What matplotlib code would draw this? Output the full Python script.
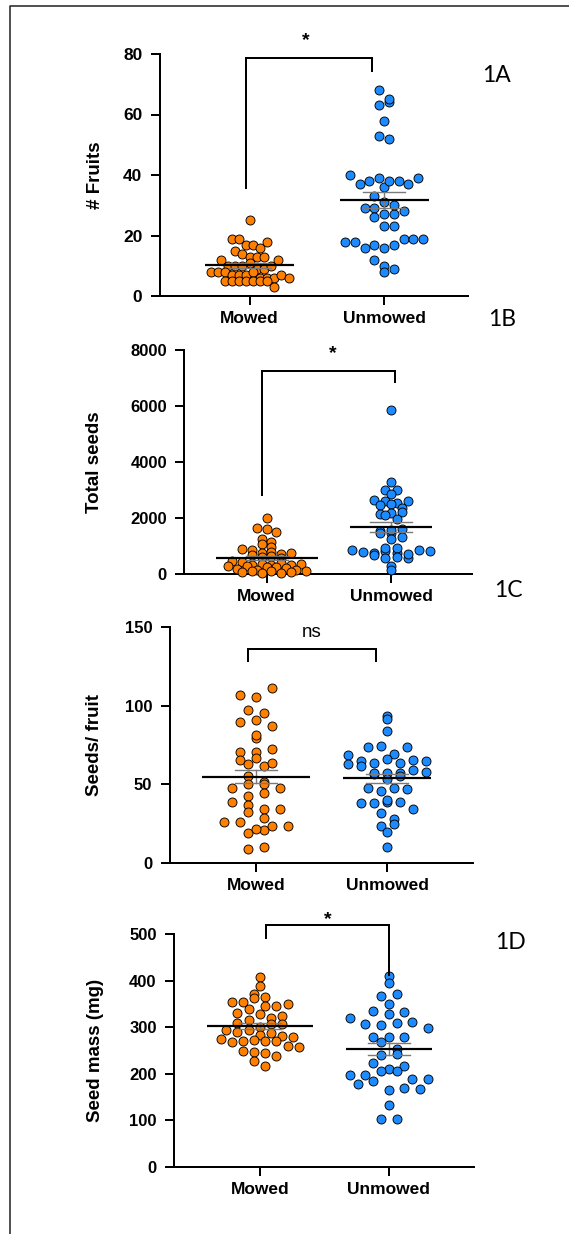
import numpy as np
import matplotlib
matplotlib.use("Agg")
import matplotlib.pyplot as plt
from matplotlib.lines import Line2D

FIG_W, FIG_H, DPI = 569, 1234, 100
PT = 72 / DPI  # points per pixel

groups = ["Mowed", "Unmowed"]
colors = ["#FF8000", "#1C8BFF"]

# 1A: number of fruits per plant
fruits_mowed = [25, 19, 19, 17, 17, 15, 16, 14, 13, 13, 13, 12, 10, 10, 10, 11, 9,
                8, 8, 8, 7, 7, 7, 8, 6, 6, 6, 7, 5, 5, 5, 5, 5, 5, 6, 9, 10, 12, 18, 5, 3]
fruits_unmowed = [68, 63, 64, 65, 58, 53, 52, 40, 37, 38, 39, 36, 38, 38, 37, 39, 33,
                  31, 29, 29, 26, 27, 27, 30, 28, 23, 23, 18, 18, 16, 17, 16, 17, 19,
                  19, 19, 12, 10, 9, 8]

# 1B: total seeds per plant
seeds_mowed = [2000, 1650, 1620, 1500, 1240, 1150, 1080, 980, 900, 840, 760, 800, 720,
               680, 740, 600, 640, 560, 480, 420, 330, 350, 310, 400, 320, 340, 290,
               180, 270, 150, 260, 240, 200, 140, 120, 60, 90, 40, 100, 50, 80]
seeds_unmowed = [5850, 3300, 3000, 3000, 2860, 2640, 2610, 2520, 2600, 2460, 2490, 2350,
                 2130, 2170, 2230, 2100, 1960, 1540, 1450, 1450, 1570, 1600, 1310, 1250,
                 860, 800, 740, 830, 940, 740, 920, 680, 580, 600, 580, 710, 860, 830,
                 300, 160]

# 1C: seeds per fruit
spf_mowed = [106.8, 105.3, 111.0, 97.0, 95.3, 89.4, 91.1, 87.3, 79.5, 81.6, 70.5, 70.8,
             72.7, 65.7, 62.9, 61.4, 66.7, 63.6, 55.1, 51.7, 47.9, 50.0, 50.4, 47.9, 42.4,
             44.3, 38.6, 37.1, 34.1, 32.6, 34.3, 28.8, 26.1, 26.1, 18.9, 20.8, 21.6, 23.3,
             23.7, 9.1, 10.2]
spf_unmowed = [93.4, 91.5, 84.1, 73.5, 74.4, 69.5, 73.5, 68.6, 64.8, 62.7, 63.3, 66.1,
               63.3, 65.3, 61.9, 64.8, 56.8, 57.4, 57.0, 57.0, 59.1, 53.2, 55.3, 57.6,
               47.5, 45.8, 47.9, 47.0, 38.3, 38.3, 38.6, 38.8, 39.8, 34.3, 32.0, 28.2,
               23.7, 24.8, 19.5, 10.2]

# 1D: seed mass (mg)
mass_mowed = [408, 389, 372, 365, 355, 355, 362, 346, 345, 350, 331, 340, 329, 320, 324,
              310, 315, 301, 306, 306, 295, 290, 293, 284, 287, 282, 275, 269, 270, 273,
              279, 270, 271, 260, 258, 250, 247, 245, 238, 228, 217]
mass_unmowed = [410, 395, 367, 371, 350, 334, 328, 332, 319, 307, 305, 309, 311, 298, 280,
                280, 278, 268, 254, 241, 242, 223, 211, 216, 198, 197, 206, 206, 189, 178,
                188, 184, 166, 170, 167, 132, 102, 102]

panel_data = [
    (fruits_mowed, fruits_unmowed),
    (seeds_mowed, seeds_unmowed),
    (spf_mowed, spf_unmowed),
    (mass_mowed, mass_unmowed),
]
panel_names = ["1A", "1B", "1C", "1D"]
y_titles = ["# Fruits", "Total seeds", "Seeds/ fruit", "Seed mass (mg)"]
y_ticks = [
    [0, 20, 40, 60, 80],
    [0, 2000, 4000, 6000, 8000],
    [0, 50, 100, 150],
    [0, 100, 200, 300, 400, 500],
]
sig_marks = ["*", "*", "ns", "*"]

# significance bracket: left x, right x, bar height, left foot, right foot
brackets = [
    (-0.027, 0.91, 78.6, 35.6, 74.4),
    (-0.035, 1.03, 7260, 2820, 6850),
    (-0.063, 0.913, 135.8, 128.2, 128.2),
    (0.045, 1.0, 519, 491, 412),
]
sig_pos = [(0.419, 83.0), (0.534, 7714), (0.426, 143.5), (0.525, 522)]

# panel geometry (px): y-axis x, Mowed x, Unmowed x, axis end x, top tick y, zero y
frames = [
    (159.6, 249.5, 384.0, 468.0, 54, 296),
    (184.3, 266.6, 391.0, 471.5, 350, 574),
    (169.7, 256.0, 387.4, 473.0, 627, 863),
    (174.0, 259.7, 388.8, 474.4, 934, 1167),
]
mean_half_px = [(44.5, 44.5), (51, 41), (54, 44), (53, 43)]
row_height = [3.5, 200, 6, 22]
panel_tag_px = [(496, 81.7), (502.5, 326), (508, 596.7), (510.7, 949)]
ylabel_x_px = 95
ytick_size = [12.5, 12, 12, 12]

plt.rcParams["font.family"] = ["Liberation Sans", "DejaVu Sans"]

fig = plt.figure(figsize=(FIG_W / DPI, FIG_H / DPI), dpi=DPI)
fig.patch.set_facecolor("white")


def swarm_x(values, center, row_h, spread, max_step):
    """Spread points that share a value row symmetrically around the group centre."""
    v = np.asarray(values, float)
    rows = np.round(v / row_h).astype(int)
    n_max = np.bincount(rows - rows.min()).max()
    step = min(spread / max(n_max - 1, 1), max_step)
    x = np.full(v.size, float(center))
    for r in np.unique(rows):
        idx = np.flatnonzero(rows == r)
        x[idx] = center + (np.arange(idx.size) - (idx.size - 1) / 2) * step
    return x


lw_axis = 2 * PT
for i, (mowed, unmowed) in enumerate(panel_data):
    yx, c0, c1, xend, ytop, yzero = frames[i]
    sp = c1 - c0
    ax = fig.add_axes([yx / FIG_W, 1 - yzero / FIG_H,
                       (xend - yx) / FIG_W, (yzero - ytop) / FIG_H])
    ax.set_xlim((yx - c0) / sp, (xend - c0) / sp)
    ax.set_ylim(y_ticks[i][0], y_ticks[i][-1])
    for side in ("top", "right"):
        ax.spines[side].set_visible(False)
    for side in ("left", "bottom"):
        ax.spines[side].set_linewidth(lw_axis)
        ax.spines[side].set_color("black")

    for g, vals in enumerate((mowed, unmowed)):
        vals = np.asarray(vals, float)
        xs = swarm_x(vals, g, row_height[i], 78 / sp, 16 / sp)
        ax.scatter(xs, vals, s=(9 * PT) ** 2, color=colors[g], edgecolor="black",
                   linewidth=0.9 * PT, zorder=3, clip_on=False)
        m = vals.mean()
        sem = vals.std(ddof=1) / np.sqrt(vals.size)
        cap = 21 / sp
        ax.plot([g, g], [m - sem, m + sem], color="#7a7a7a", lw=1.4 * PT, zorder=4)
        ax.plot([g - cap, g + cap], [m + sem, m + sem], color="#7a7a7a", lw=1.4 * PT, zorder=4)
        ax.plot([g - cap, g + cap], [m - sem, m - sem], color="#7a7a7a", lw=1.4 * PT, zorder=4)
        half = mean_half_px[i][g] / sp
        ax.plot([g - half, g + half], [m, m], color="black", lw=2.2 * PT, zorder=5,
                solid_capstyle="butt")

    ax.set_xticks([0, 1])
    ax.set_xticklabels(groups, fontsize=12.5, fontweight="bold")
    ax.set_yticks(y_ticks[i])
    ax.set_yticklabels([str(t) for t in y_ticks[i]], fontsize=ytick_size[i],
                       fontweight="bold")
    ax.tick_params(axis="both", length=9 * PT, width=lw_axis, color="black")
    ax.tick_params(axis="y", pad=6)
    ax.tick_params(axis="x", pad=4)

    ax.set_ylabel(y_titles[i], fontsize=13.5, fontweight="bold")
    ax.yaxis.label.set_va("center")
    ax.yaxis.set_label_coords((ylabel_x_px - yx) / (xend - yx), 0.5)

    bx0, bx1, btop, bl, br = brackets[i]
    ax.plot([bx0, bx0, bx1, bx1], [bl, btop, btop, br], color="black", lw=2 * PT,
            clip_on=False, zorder=6, solid_joinstyle="miter")
    sx, sy = sig_pos[i]
    if sig_marks[i] == "ns":
        ax.text(sx, sy, "ns", ha="center", va="baseline", fontsize=13.5, clip_on=False)
    else:
        ax.text(sx, sy, "*", ha="center", va="baseline", fontsize=14,
                fontweight="bold", clip_on=False)

    tx, ty = panel_tag_px[i]
    fig.text(tx / FIG_W, 1 - ty / FIG_H, panel_names[i], ha="center", va="baseline",
             fontsize=16.5, family=["Lato", "DejaVu Sans"])

# outer frame around the figure
fig.add_artist(Line2D([10 / FIG_W, 10 / FIG_W, 1.0], [0.0, 1 - 6 / FIG_H, 1 - 6 / FIG_H],
                      transform=fig.transFigure, color="#2a2a2a", lw=1.6 * PT))

fig.savefig("out.png", dpi=DPI, facecolor="white")
